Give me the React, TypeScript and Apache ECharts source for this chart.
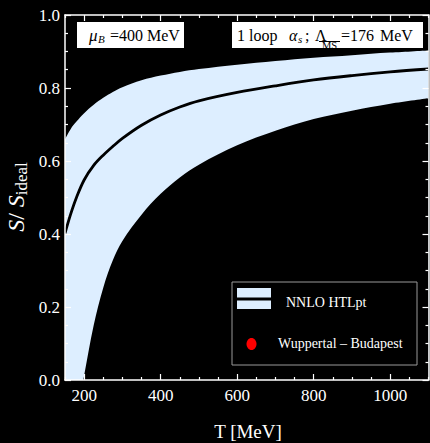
import React, { useEffect, useRef } from "react";
import * as echarts from "echarts";

// Temperatures (MeV) at which the curves were read
const temps = [150, 165, 180, 200, 225, 250, 275, 300, 350, 400, 450, 500, 600, 700, 800, 900, 1000, 1100];
// NNLO HTLpt band: upper edge, central line, lower edge of S/S_ideal (lower edge continues below 0, clipped)
const upper = [0.66, 0.688, 0.708, 0.731, 0.754, 0.773, 0.789, 0.802, 0.821, 0.834, 0.844, 0.852, 0.864, 0.874, 0.883, 0.89, 0.897, 0.903];
const central = [0.402, 0.455, 0.5, 0.548, 0.588, 0.616, 0.64, 0.662, 0.698, 0.726, 0.748, 0.765, 0.788, 0.806, 0.822, 0.834, 0.844, 0.852];
const lower = [-0.35, -0.22, -0.1, 0.012, 0.15, 0.253, 0.328, 0.381, 0.453, 0.51, 0.555, 0.59, 0.643, 0.683, 0.715, 0.738, 0.757, 0.772];

const xMajorTicks = [200, 400, 600, 800, 1000];
const xMinorTicks = [150, 250, 300, 350, 450, 500, 550, 650, 700, 750, 850, 900, 950, 1050, 1100];

const SERIF = "Liberation Serif";
const BAND = "#ddeeff";

export default function App() {
  const ref = useRef<HTMLDivElement>(null);
  useEffect(() => {
    document.body.style.margin = "0";
    document.body.style.background = "#000";
    const chart = echarts.init(ref.current!, null, { renderer: "svg" });
    const white = "#ffffff";
    const axisLine = { show: true, lineStyle: { color: white, width: 1.5 } };
    const xBase = (position: string, major: boolean, labels: boolean) => ({
      type: "value",
      min: 150,
      max: 1100,
      position,
      z: 10,
      axisLine: major ? axisLine : { show: false },
      axisTick: {
        show: true,
        inside: true,
        length: major ? 6 : 3,
        customValues: major ? xMajorTicks : xMinorTicks,
        lineStyle: { color: white, width: 1.2 },
      },
      axisLabel: labels
        ? {
            show: true,
            customValues: xMajorTicks,
            color: white,
            fontSize: 17,
            fontFamily: SERIF,
            margin: 7,
            formatter: (v: number) => String(v),
          }
        : { show: false },
      splitLine: { show: false },
    });
    const yBase = (position: string, labels: boolean) => ({
      type: "value",
      min: 0,
      max: 1,
      interval: 0.2,
      position,
      z: 10,
      axisLine,
      axisTick: { show: true, inside: true, length: 6, lineStyle: { color: white, width: 1.2 } },
      minorTick: { show: true, splitNumber: 4, length: 3, lineStyle: { color: white, width: 1.2 } },
      axisLabel: labels
        ? { show: true, color: white, fontSize: 17, fontFamily: SERIF, margin: 5, formatter: (v: number) => v.toFixed(1) }
        : { show: false },
      splitLine: { show: false },
    });

    const txt = (x: number, y: number, text: string, size: number, extra: any = {}) => ({
      type: "text",
      x,
      y,
      z: 20,
      style: {
        text,
        fill: extra.fill || "#000",
        font: `${extra.italic ? "italic " : ""}${size}px ${SERIF}`,
        align: extra.align || "left",
        verticalAlign: "middle",
      },
    });

    chart.setOption({
      animation: false,
      backgroundColor: "#000",
      grid: { left: 65, right: 1.5, top: 15, bottom: 63 },
      xAxis: [
        xBase("bottom", true, true),
        xBase("bottom", false, false),
        xBase("top", true, false),
        xBase("top", false, false),
      ],
      yAxis: [yBase("left", true), yBase("right", false)],
      series: [
        {
          type: "line",
          name: "NNLO HTLpt",
          data: temps.map((t, i) => [t, upper[i]]),
          symbol: "none",
          smooth: 0.35,
          lineStyle: { width: 0, opacity: 0 },
          areaStyle: { color: BAND, opacity: 1 },
          z: 2,
        },
        {
          type: "line",
          name: "lower",
          data: temps.map((t, i) => [t, lower[i]]),
          symbol: "none",
          smooth: 0.35,
          lineStyle: { width: 0, opacity: 0 },
          areaStyle: { color: "#000", opacity: 1 },
          z: 3,
        },
        {
          type: "line",
          name: "central",
          data: temps.map((t, i) => [t, central[i]]),
          symbol: "none",
          smooth: 0.35,
          lineStyle: { color: "#000", width: 2.8 },
          z: 5,
        },
      ],
      graphic: [
        // mu_B box
        { type: "rect", shape: { x: 77, y: 22, width: 107, height: 26 }, style: { fill: "#fff" }, z: 15 },
        txt(89, 35, "μ", 17, { italic: true }),
        txt(98, 39, "B", 11, { italic: true }),
        txt(110, 35, "=400 MeV", 16),
        // alpha_s box
        { type: "rect", shape: { x: 232, y: 22, width: 191, height: 26 }, style: { fill: "#fff" }, z: 15 },
        txt(237, 35, "1 loop", 16),
        txt(289, 35, "α", 16, { italic: true }),
        txt(298, 39, "s", 11, { italic: true }),
        txt(305, 35, ";", 16),
        txt(315, 35, "Λ", 16),
        { type: "line", shape: { x1: 319, y1: 41.5, x2: 340, y2: 41.5 }, style: { stroke: "#000", lineWidth: 1 }, z: 20 },
        txt(322, 45.5, "MS", 10.5),
        txt(341, 35, "=176", 16),
        txt(380, 35, "MeV", 16),
        // legend
        { type: "rect", shape: { x: 232, y: 282, width: 185, height: 83 }, style: { fill: "#000", stroke: "#999", lineWidth: 1 }, z: 15 },
        { type: "rect", shape: { x: 237, y: 288, width: 34, height: 21 }, style: { fill: BAND }, z: 16 },
        { type: "line", shape: { x1: 237, y1: 299, x2: 271, y2: 299 }, style: { stroke: "#000", lineWidth: 3 }, z: 17 },
        txt(286, 302, "NNLO HTLpt", 14, { fill: "#fff" }),
        { type: "ellipse", shape: { cx: 251.5, cy: 344, rx: 5, ry: 6 }, style: { fill: "#ff0000" }, z: 16 },
        txt(278, 343, "Wuppertal – Budapest", 14, { fill: "#fff" }),
        // axis titles
        txt(248, 431, "T [MeV]", 19, { fill: "#fff", align: "center" }),
        {
          type: "text",
          x: 16,
          y: 197,
          rotation: Math.PI / 2,
          z: 20,
          style: {
            text: "{s|S}{n|/ }{s|S}{sub|ideal}",
            align: "center",
            verticalAlign: "middle",
            fill: "#fff",
            rich: {
              s: { fontFamily: SERIF, fontStyle: "italic", fontSize: 24, lineHeight: 28, fill: "#fff", color: "#fff" },
              n: { fontFamily: SERIF, fontSize: 24, lineHeight: 28, fill: "#fff", color: "#fff" },
              sub: { fontFamily: SERIF, fontSize: 17, lineHeight: 17, verticalAlign: "bottom", fill: "#fff", color: "#fff" },
            },
          },
        },
      ],
    });
    return () => chart.dispose();
  }, []);
  return <div ref={ref} style={{ width: 430, height: 443 }} />;
}
